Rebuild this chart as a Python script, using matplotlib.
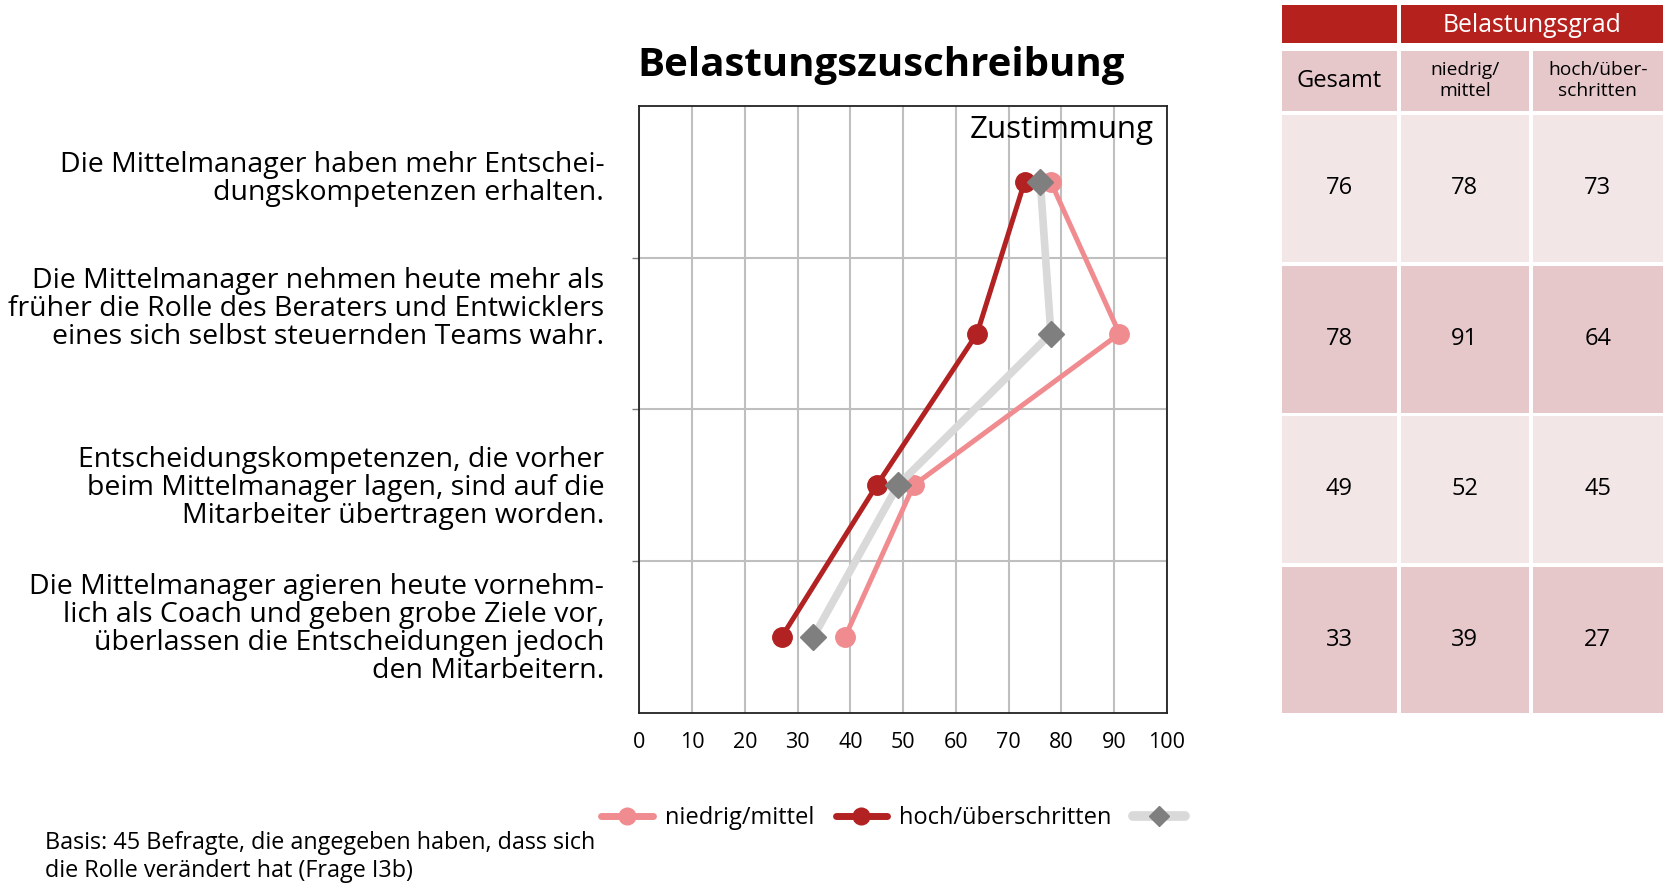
import matplotlib
matplotlib.use("Agg")
import matplotlib.pyplot as plt
from matplotlib.patches import Rectangle
from matplotlib.lines import Line2D

plt.rcParams['font.family'] = ['Open Sans', 'DejaVu Sans']

# ---- data ----
categories = [
    "Die Mittelmanager haben mehr Entschei-\ndungskompetenzen erhalten.",
    "Die Mittelmanager nehmen heute mehr als\nfrüher die Rolle des Beraters und Entwicklers\neines sich selbst steuernden Teams wahr.",
    "Entscheidungskompetenzen, die vorher\nbeim Mittelmanager lagen, sind auf die\nMitarbeiter übertragen worden.",
    "Die Mittelmanager agieren heute vornehm-\nlich als Coach und geben grobe Ziele vor,\nüberlassen die Entscheidungen jedoch\nden Mitarbeitern.",
]
niedrig_mittel = [78, 91, 52, 39]
hoch_ueberschritten = [73, 64, 45, 27]
gesamt = [76, 78, 49, 33]
series_labels = ["niedrig/mittel", "hoch/überschritten", ""]
x_ticks = [0, 10, 20, 30, 40, 50, 60, 70, 80, 90, 100]
table_columns = ["Gesamt", "niedrig/\nmittel", "hoch/über-\nschritten"]
table_group = "Belastungsgrad"
title = "Belastungszuschreibung"
axis_note = "Zustimmung"
footnote = "Basis: 45 Befragte, die angegeben haben, dass sich\ndie Rolle verändert hat (Frage I3b)"

# ---- layout helpers (reference measured on a 1568x835 grid) ----
W, H = 1568.0, 835.0
def fx(x): return x / W
def fy(y): return 1 - y / H

C_PINK = "#F08C8F"
C_RED = "#B22222"
C_LGRAY = "#D9D9D9"
C_DGRAY = "#7F7F7F"
C_HEAD = "#B5221E"
C_DARK = "#E6C8CB"
C_LIGHT = "#F2E6E6"

fig = plt.figure(figsize=(16.68, 8.88), dpi=100)
ax = fig.add_axes([fx(601), fy(670), fx(1097) - fx(601), fy(100) - fy(670)])

ypos = list(range(len(categories)))
ax.plot(niedrig_mittel, ypos, color=C_PINK, lw=3.6, marker="o", ms=14,
        mfc=C_PINK, mec=C_PINK, zorder=3)
ax.plot(hoch_ueberschritten, ypos, color=C_RED, lw=3.6, marker="o", ms=14,
        mfc=C_RED, mec=C_RED, zorder=4)
ax.plot(gesamt, ypos, color=C_LGRAY, lw=5.5, marker="D", ms=13,
        mfc=C_DGRAY, mec=C_DGRAY, zorder=5)

ax.set_xlim(0, 100)
ax.set_ylim(len(categories) - 0.5, -0.5)
ax.set_xticks(x_ticks)
ax.set_xticklabels([str(v) for v in x_ticks], fontsize=15.5)
ax.set_yticks([i + 0.5 for i in range(len(categories) - 1)])
ax.set_yticklabels([])
ax.tick_params(axis="x", length=0, pad=14)
ax.tick_params(axis="y", length=5, width=1, color="#7F7F7F")
ax.grid(True, color="#BFBFBF", lw=1.5, zorder=0)
ax.set_axisbelow(True)
for s in ax.spines.values():
    s.set_color("#222222")
    s.set_linewidth(1.3)

ax.text(0.975, 0.985, axis_note, transform=ax.transAxes, ha="right", va="top",
        fontsize=22.5, zorder=6)

# title
fig.text(fx(828), fy(62), title, ha="center", va="center", fontsize=29,
         fontweight="bold")

# category labels
label_y = [168, 291, 459, 591]
for lab, y in zip(categories, label_y):
    fig.text(fx(568), fy(y), lab, ha="right", va="center", fontsize=20.5,
             linespacing=1.0)

# legend
handles = [
    Line2D([], [], color=C_PINK, lw=5, marker="o", ms=12, mfc=C_PINK, mec=C_PINK,
           solid_capstyle="round"),
    Line2D([], [], color=C_RED, lw=5, marker="o", ms=12, mfc=C_RED, mec=C_RED,
           solid_capstyle="round"),
    Line2D([], [], color=C_LGRAY, lw=7, marker="D", ms=10, mfc=C_DGRAY, mec=C_DGRAY,
           solid_capstyle="round"),
]
fig.legend(handles, series_labels, loc="center", bbox_to_anchor=(fx(845), fy(769)),
           ncol=3, frameon=False, fontsize=17, handlelength=2.2, columnspacing=0.9,
           handletextpad=0.5)

# footnote
fig.text(fx(42), fy(806), footnote, ha="left", va="center", fontsize=16.8,
         linespacing=1.25)

# ---- table ----
col_x = [(1205, 1313), (1317, 1437), (1441, 1563)]
row_y = [(108, 246), (250, 388), (391, 529), (533, 670)]
table_values = [[g, n, h] for g, n, h in zip(gesamt, niedrig_mittel, hoch_ueberschritten)]

def rect(x0, x1, y0, y1, color):
    fig.add_artist(Rectangle((fx(x0), fy(y1)), fx(x1) - fx(x0), fy(y0) - fy(y1),
                             transform=fig.transFigure, facecolor=color,
                             edgecolor="none", zorder=1))

# header row
rect(col_x[0][0], col_x[0][1], 5, 40, C_HEAD)
rect(col_x[1][0], col_x[2][1], 5, 40, C_HEAD)
fig.text(fx((col_x[1][0] + col_x[2][1]) / 2), fy(24), table_group, ha="center",
         va="center", color="white", fontsize=17.8)
# sub header
for i, (x0, x1) in enumerate(col_x):
    rect(x0, x1, 48, 104, C_DARK)
    fs = 17 if i == 0 else 13.8
    fig.text(fx((x0 + x1) / 2), fy(76), table_columns[i], ha="center", va="center",
             fontsize=fs, linespacing=1.2)
# body
for r, (y0, y1) in enumerate(row_y):
    color = C_LIGHT if r % 2 == 0 else C_DARK
    for c, (x0, x1) in enumerate(col_x):
        rect(x0, x1, y0, y1, color)
        fig.text(fx((x0 + x1) / 2), fy((y0 + y1) / 2), str(table_values[r][c]),
                 ha="center", va="center", fontsize=17)

fig.savefig("out.png", dpi=100)
